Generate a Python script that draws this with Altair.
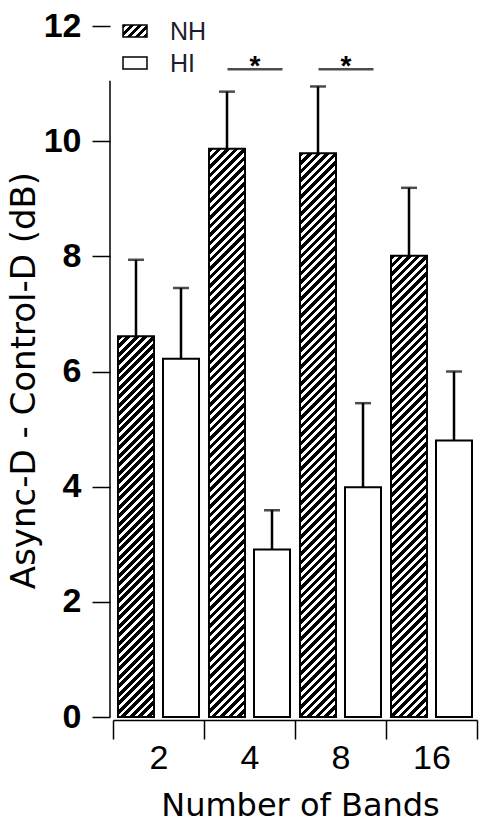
import altair as alt
import pandas as pd

# ---- data ----
bands = ["2", "4", "8", "16"]
groups = ["NH", "HI"]
nh_mean = [6.61, 9.87, 9.79, 8.01]
nh_upper = [7.94, 10.86, 10.95, 9.19]
hi_mean = [6.22, 2.91, 3.99, 4.80]
hi_upper = [7.45, 3.59, 5.45, 6.00]
sig_bands = ["4", "8"]
sig_level = 11.25
y_ticks = [0, 2, 4, 6, 8, 10, 12]
y_axis_top = 11.05

# ---- layout ----
W, H, YMAX = 364, 691, 12
PAD_IN, PAD_OUT = 0.2, 0.111
STEP = (W / len(bands)) / (2 - PAD_IN + 2 * PAD_OUT)
BAR_W = STEP * (1 - PAD_IN)


def hatch(w, h, period=8.5, frac=0.55):
    L = w + h
    t = L / (w * w + h * h)
    stops = []
    k = 0
    while k * period < L:
        a = k * period / L
        b = min((k * period + frac * period) / L, 1)
        c = min((k + 1) * period / L, 1)
        stops += [
            {"offset": a, "color": "black"},
            {"offset": b, "color": "black"},
            {"offset": b, "color": "white"},
            {"offset": c, "color": "white"},
        ]
        k += 1
    return {"gradient": "linear", "x1": 0, "y1": 0, "x2": w * t, "y2": h * t, "stops": stops}


df = pd.DataFrame({
    "band": bands * 2,
    "group": ["NH"] * len(bands) + ["HI"] * len(bands),
    "mean": nh_mean + hi_mean,
    "upper": nh_upper + hi_upper,
})

x_axis = alt.Axis(
    title="Number of Bands", tickBand="extent", offset=3, tickSize=19, tickWidth=1.5,
    tickColor="black", domainColor="black", domainWidth=1.5, labelAngle=0,
    labelFont="Liberation Sans", labelFontSize=34, labelColor="black", labelPadding=2,
    titleFont="DejaVu Sans", titleFontSize=32, titleFontWeight="normal", titleColor="black",
    titlePadding=15, titleX=187,
)
y_axis = alt.Axis(
    title="Async-D - Control-D (dB)", values=y_ticks, domain=False, offset=3, tickSize=18,
    tickWidth=1.5, tickColor="black", grid=False, format="d",
    labelFont="Liberation Sans", labelFontWeight="bold", labelFontSize=34, labelColor="black",
    labelPadding=11, titleFont="DejaVu Sans", titleFontSize=34, titleFontWeight="normal",
    titleColor="black", titlePadding=2, titleY=354,
)
x_scale = alt.Scale(paddingInner=0, paddingOuter=0)
y_scale = alt.Scale(domain=[0, YMAX], nice=False, zero=True)


def X():
    return alt.X("band:N", sort=bands, scale=x_scale, axis=x_axis)


def XO():
    return alt.XOffset("group:N", sort=groups,
                       scale=alt.Scale(paddingInner=PAD_IN, paddingOuter=PAD_OUT))


def Y(field):
    return alt.Y(field, scale=y_scale, axis=y_axis)


base = alt.Chart(df)
layers = []

# NH hatched bars (one layer each: hatch gradient depends on bar height)
for b, m in zip(bands, nh_mean):
    layers.append(
        base.transform_filter((alt.datum.group == "NH") & (alt.datum.band == b))
        .mark_bar(fill=hatch(BAR_W, m * H / YMAX), stroke="black", strokeWidth=2)
        .encode(x=X(), xOffset=XO(), y=Y("mean:Q"))
    )

# HI open bars
layers.append(
    base.transform_filter(alt.datum.group == "HI")
    .mark_bar(fill="white", stroke="black", strokeWidth=2)
    .encode(x=X(), xOffset=XO(), y=Y("mean:Q"))
)

# upward error bars
layers.append(
    base.mark_rule(color="black", strokeWidth=2.5)
    .encode(x=X(), xOffset=XO(), y=Y("mean:Q"), y2="upper:Q")
)
layers.append(
    base.mark_tick(color="black", size=16, thickness=2.5)
    .encode(x=X(), xOffset=XO(), y=Y("upper:Q"))
)

# significance markers
sig = alt.Chart(pd.DataFrame({"band": sig_bands, "level": [sig_level] * len(sig_bands)}))
layers.append(
    sig.mark_tick(color="black", size=55, thickness=2.5, xOffset=5.5)
    .encode(x=X(), y=Y("level:Q"))
)
layers.append(
    sig.mark_text(text="*", font="Liberation Sans", fontSize=28, fontWeight="bold",
                  baseline="alphabetic", dx=5.5, dy=6, color="black")
    .encode(x=X(), y=Y("level:Q"))
)

# y axis line (stops short of the top tick, as in the reference)
yl = alt.Chart(pd.DataFrame({"lo": [0], "hi": [y_axis_top]}))
layers.append(
    yl.mark_rule(color="black", strokeWidth=1.5)
    .encode(x=alt.value(-3), y=Y("lo:Q"), y2="hi:Q")
)

# legend
leg = alt.Chart(pd.DataFrame({"group": groups}))
swatch_fill = [hatch(24, 12, period=8, frac=0.5), "white"]
rows_top = [-1, 31]
for g, f, top in zip(groups, swatch_fill, rows_top):
    one = leg.transform_filter(alt.datum.group == g)
    layers.append(
        one.mark_rect(fill=f, stroke="black", strokeWidth=1.5)
        .encode(x=alt.value(10), x2=alt.value(34), y=alt.value(top), y2=alt.value(top + 12))
    )
    layers.append(
        one.mark_text(align="left", baseline="alphabetic", font="Liberation Sans",
                      fontSize=25, color="#1c1c2c")
        .encode(x=alt.value(57), y=alt.value(top + 15), text="group:N")
    )

chart = (
    alt.layer(*layers)
    .properties(
        width=W, height=H,
        padding={"left": 113, "top": 26, "right": 3, "bottom": 105},
        autosize=alt.AutoSizeParams(type="none"),
        background="white",
    )
    .configure_view(stroke=None)
)

chart.save("out.html", embed_options={"renderer": "svg", "actions": False})
